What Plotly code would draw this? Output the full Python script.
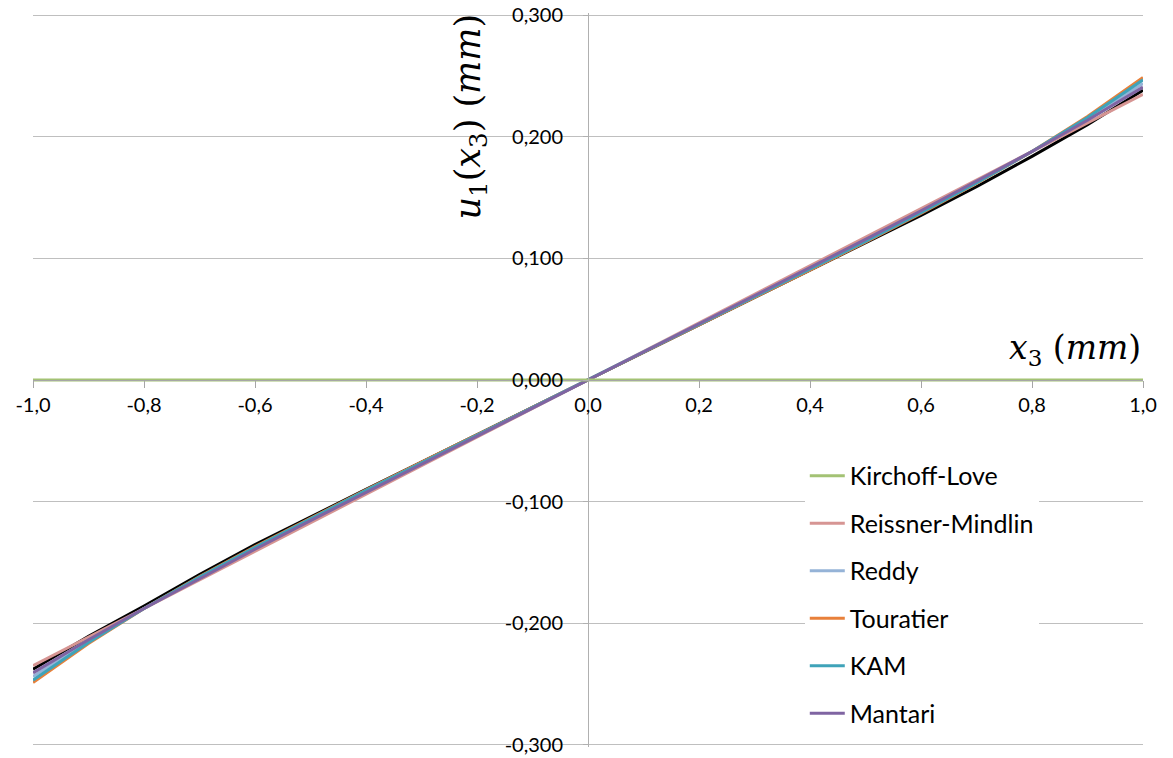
import plotly.graph_objects as go

# ---------------- data ----------------
x3 = [-1.0, -0.9, -0.8, -0.7, -0.6, -0.5, -0.4, -0.3, -0.2, -0.1, 0.0,
      0.1, 0.2, 0.3, 0.4, 0.5, 0.6, 0.7, 0.8, 0.9, 1.0]

kirchoff_love = [0.0, 0.0, 0.0, 0.0, 0.0, 0.0, 0.0, 0.0, 0.0, 0.0, 0.0,
                 0.0, 0.0, 0.0, 0.0, 0.0, 0.0, 0.0, 0.0, 0.0, 0.0]
reissner_mindlin = [-0.2350, -0.2115, -0.1880, -0.1645, -0.1410, -0.1175, -0.0940, -0.0705, -0.0470, -0.0235, 0.0,
                    0.0235, 0.0470, 0.0705, 0.0940, 0.1175, 0.1410, 0.1645, 0.1880, 0.2115, 0.2350]
reddy = [-0.2440, -0.2149, -0.1880, -0.1627, -0.1384, -0.1149, -0.0917, -0.0687, -0.0458, -0.0229, 0.0,
         0.0229, 0.0458, 0.0687, 0.0917, 0.1149, 0.1384, 0.1627, 0.1880, 0.2149, 0.2440]
touratier = [-0.2490, -0.2168, -0.1880, -0.1617, -0.1370, -0.1134, -0.0904, -0.0676, -0.0451, -0.0225, 0.0,
             0.0225, 0.0451, 0.0676, 0.0904, 0.1134, 0.1370, 0.1617, 0.1880, 0.2168, 0.2490]
kam = [-0.2470, -0.2160, -0.1880, -0.1621, -0.1376, -0.1140, -0.0909, -0.0681, -0.0453, -0.0227, 0.0,
       0.0227, 0.0453, 0.0681, 0.0909, 0.1140, 0.1376, 0.1621, 0.1880, 0.2160, 0.2470]
mantari = [-0.2410, -0.2137, -0.1880, -0.1633, -0.1393, -0.1157, -0.0924, -0.0693, -0.0462, -0.0231, 0.0,
           0.0231, 0.0462, 0.0693, 0.0924, 0.1157, 0.1393, 0.1633, 0.1880, 0.2137, 0.2410]
reference = [-0.2380, -0.2110, -0.1860, -0.1600, -0.1355, -0.1125, -0.0900, -0.0675, -0.0450, -0.0225, 0.0,
             0.0225, 0.0450, 0.0675, 0.0900, 0.1125, 0.1355, 0.1590, 0.1840, 0.2100, 0.2385]

x_tickvals = [-1.0, -0.8, -0.6, -0.4, -0.2, 0.0, 0.2, 0.4, 0.6, 0.8, 1.0]
x_ticktext = ["-1,0", "-0,8", "-0,6", "-0,4", "-0,2", "0,0", "0,2", "0,4", "0,6", "0,8", "1,0"]
y_tickvals = [-0.3, -0.2, -0.1, 0.0, 0.1, 0.2, 0.3]
y_ticktext = ["-0,300", "-0,200", "-0,100", "0,000", "0,100", "0,200", "0,300"]

series_names = ["Kirchoff-Love", "Reissner-Mindlin", "Reddy", "Touratier", "KAM", "Mantari"]
series_values = [kirchoff_love, reissner_mindlin, reddy, touratier, kam, mantari]
series_colors = ["#A3C274", "#D69593", "#95B3D7", "#E8803A", "#3FA3B9", "#7F64A2"]

font_main = "Lato, 'Open Sans', sans-serif"
math_font = "'DejaVu Serif', serif"

fig = go.Figure()
# unlabeled black curve, drawn first
fig.add_trace(go.Scatter(x=x3, y=reference, mode="lines", name="Référence",
                         line=dict(color="#000000", width=3), showlegend=False))
# draw order: the others, then Kirchoff-Love on top of the x axis
draw_order = [1, 2, 3, 4, 5, 0]
for i in draw_order:
    fig.add_trace(go.Scatter(x=x3, y=series_values[i], mode="lines",
                             name=series_names[i], legendgroup=series_names[i],
                             legendrank=i + 1,
                             line=dict(color=series_colors[i], width=3)))

# page body has an 8 px default margin; compensate.
# y range padded slightly so the +/-0.3 gridlines are not clipped at the ends
fig.update_layout(
    width=1165, height=750,
    margin=dict(l=25, r=30, t=4.6, b=10.6, autoexpand=False),
    paper_bgcolor="white", plot_bgcolor="white",
    font=dict(family=font_main, size=20, color="#000000"),
    showlegend=True,
    legend=dict(x=0.6953, y=0.4007, xanchor="left", yanchor="top",
                bgcolor="white", borderwidth=0,
                font=dict(family=font_main, size=25, color="#000000"),
                traceorder="grouped", tracegroupgap=12, itemwidth=35),
    xaxis=dict(range=[-1, 1], anchor="free", position=0.5, automargin=False,
               showgrid=False, zeroline=False,
               showline=True, linecolor="#A6A6A6", linewidth=1,
               ticks="outside", ticklen=7, tickcolor="#A6A6A6",
               tickvals=x_tickvals, ticktext=x_ticktext,
               tickfont=dict(family=font_main, size=20, color="#000000")),
    yaxis=dict(range=[-0.302, 0.302], anchor="free", position=0.5, automargin=False,
               showgrid=True, gridcolor="#BFBFBF", gridwidth=1,
               zeroline=False,
               showline=True, linecolor="#B0B0B0", linewidth=1,
               ticks="outside", ticklen=5, tickcolor="#B0B0B0",
               tickvals=y_tickvals, ticktext=y_ticktext,
               ticklabelstandoff=16, ticklabeloverflow="allow",
               tickfont=dict(family=font_main, size=20, color="#000000")),
)

fig.add_annotation(
    text="<i>u</i><sub>1</sub>(<i>x</i><sub>3</sub>) (<i>mm</i>)",
    xref="paper", yref="paper", x=0.3937, y=0.859,
    xanchor="center", yanchor="middle", textangle=-90, showarrow=False,
    font=dict(family=math_font, size=35, color="#000000"))
fig.add_annotation(
    text="<i>x</i><sub>3</sub> (<i>mm</i>)",
    xref="paper", yref="paper", x=0.9387, y=0.541,
    xanchor="center", yanchor="middle", showarrow=False,
    font=dict(family=math_font, size=33, color="#000000"))
fig.add_annotation(
    text="n", xref="paper", yref="paper", x=-0.027, y=0.79,
    xanchor="right", yanchor="middle", showarrow=False,
    font=dict(family=font_main, size=34, color="#FF00FF"))

fig.write_html("out.html")
